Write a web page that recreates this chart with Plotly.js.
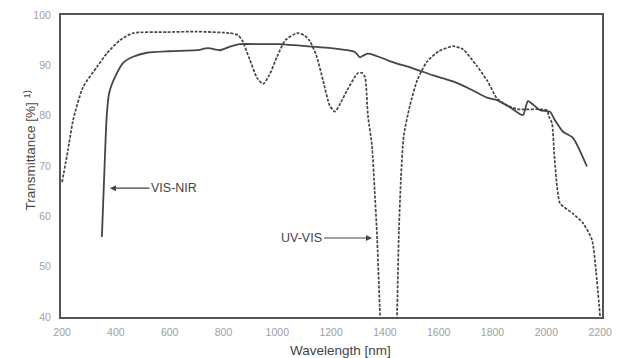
<!DOCTYPE html>
<html>
<head>
<meta charset="utf-8">
<script src="https://cdn.plot.ly/plotly-3.0.1.min.js"></script>
<style>html,body{margin:0;padding:0;background:#fff;}#chart{width:624px;height:358px;}</style>
</head>
<body>
<div id="chart"></div>
<script>
const visWavelength = [348,358,366,375,397,427,464,515,600,700,743,787,824,861,950,1010,1133,1200,1270,1290,1307,1333,1352,1420,1504,1580,1653,1720,1779,1817,1870,1913,1932,1976,2014,2032,2062,2099,2151];
const visTransmittance = [55.9,70,80,84.5,87.7,90.5,91.7,92.5,92.8,93.0,93.4,93.0,93.7,94.2,94.2,94.2,93.7,93.4,92.9,92.6,91.6,92.3,92.2,90.8,89.4,88.0,86.8,85.2,83.6,83.1,81.5,80.1,82.9,81.1,80.8,79.1,76.8,75.6,69.9];

const uvWavelength = [200,222,241,278,330,367,415,464,590,700,824,854,869,898,925,947,970,999,1030,1073,1100,1121,1145,1170,1195,1214,1235,1259,1300,1315,1326,1337,1352,1362,1370,1382,1390,1437,1445,1452,1460,1470,1493,1520,1556,1600,1653,1690,1740,1779,1817,1850,1891,2002,2010,2021,2030,2040,2051,2100,2137,2170,2185,2200];
const uvTransmittance = [66.8,73.2,79.1,85.7,89.7,92.4,95.0,96.4,96.6,96.7,96.4,96.0,95.0,91.1,87.5,86.3,88,91.7,95,96.4,96,94.8,92,87,82,80.8,82.5,85.0,88.5,88.5,87.7,80,74,65,57,40,25,25,40,57,68,76,82,87,90.7,92.8,93.8,93.2,90,87.1,83.4,82.2,81.3,81.1,79.8,78.5,72,65.9,62.6,60.5,58.6,55.3,49,40];

const xTicks = [200,400,600,800,1000,1200,1400,1600,1800,2000,2200];
const yTicks = [40,50,60,70,80,90,100];
const xTitle = 'Wavelength [nm]';
const yTitle = 'Transmittance [%] <sup>1)</sup>';

const traces = [
  {x: visWavelength, y: visTransmittance, mode: 'lines', name: 'VIS-NIR',
   line: {color: '#454545', width: 1.8, shape: 'spline', smoothing: 0.6}},
  {x: uvWavelength, y: uvTransmittance, mode: 'lines', name: 'UV-VIS',
   line: {color: '#454545', width: 1.7, dash: '3px,1.5px', shape: 'spline', smoothing: 0.6}}
];

const layout = {
  width: 624, height: 358,
  margin: {l: 61, r: 22, t: 15, b: 41},
  paper_bgcolor: '#fff', plot_bgcolor: '#fff',
  showlegend: false,
  font: {family: 'Liberation Sans, Arial, sans-serif', color: '#444'},
  xaxis: {
    range: [196, 2207], tickvals: xTicks, ticktext: xTicks.map(String),
    showgrid: false, zeroline: false, showline: true, mirror: true,
    linecolor: '#555', linewidth: 2, ticks: '',
    ticklabelstandoff: 4,
    tickfont: {size: 10.5, color: '#a0a0a0'}
  },
  yaxis: {
    range: [40, 100], tickvals: yTicks, ticktext: yTicks.map(String),
    showgrid: false, zeroline: false, showline: true, mirror: true,
    linecolor: '#555', linewidth: 2, ticks: '',
    ticklabelstandoff: 6,
    tickfont: {size: 10.5, color: '#a0a0a0'}
  },
  annotations: [
    {xref: 'paper', yref: 'paper', x: 0.517, y: -0.11, xanchor: 'center', yanchor: 'middle',
     text: xTitle, showarrow: false, font: {size: 13.5, color: '#444'}},
    {xref: 'paper', yref: 'paper', x: -0.058, y: 0.55, xanchor: 'center', yanchor: 'middle',
     text: yTitle, textangle: -90, showarrow: false, font: {size: 13.5, color: '#444'}},
    {x: 378, y: 65.6, xref: 'x', yref: 'y', text: 'VIS-NIR', showarrow: true,
     ax: 64, ay: 0, arrowhead: 2, arrowsize: 1, arrowwidth: 1.2, arrowcolor: '#444',
     font: {size: 12.5, color: '#444'}},
    {x: 1352, y: 55.7, xref: 'x', yref: 'y', text: 'UV-VIS', showarrow: true,
     ax: -70, ay: 0, arrowhead: 2, arrowsize: 1, arrowwidth: 1.2, arrowcolor: '#444',
     font: {size: 12.5, color: '#444'}}
  ]
};

Plotly.newPlot('chart', traces, layout, {staticPlot: true, displayModeBar: false});
</script>
</body>
</html>
